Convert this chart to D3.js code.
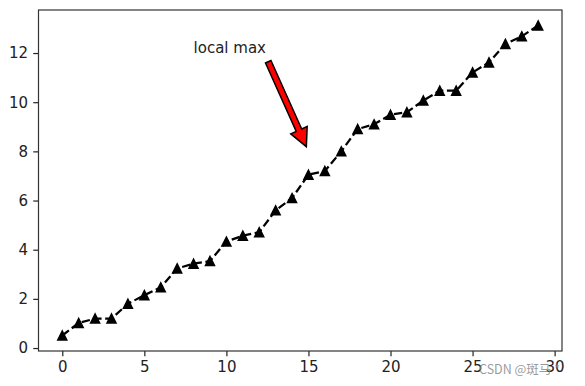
<!DOCTYPE html>
<html>
<head>
<meta charset="UTF-8">
<title>local max</title>
<style>
  body { margin: 0; background: #fff; }
  svg { display: block; }
  .tick text { font-family: "DejaVu Sans", sans-serif; font-size: 15px; fill: #222; }
  .tick line { stroke: #222; }
  .domain { display: none; }
</style>
</head>
<body>
<svg width="585" height="386"></svg>
<script src="https://cdnjs.cloudflare.com/ajax/libs/d3/7.8.5/d3.min.js"></script>
<script>
// data
const xs = d3.range(30);
const ys = [0.51, 1.02, 1.20, 1.20, 1.80, 2.15, 2.47, 3.24, 3.43, 3.54,
            4.33, 4.57, 4.71, 5.60, 6.10, 7.05, 7.20, 8.00, 8.91, 9.10,
            9.49, 9.59, 10.07, 10.47, 10.47, 11.21, 11.62, 12.37, 12.68, 13.12];
const xTicks = [0, 5, 10, 15, 20, 25, 30];
const yTicks = [0, 2, 4, 6, 8, 10, 12];
const noteText = "local max";
const noteXY = [15, 8];
const noteTextXY = [8, 12];

const pt = 1.5; // points -> px
const svg = d3.select("svg");
const L = 38.5, R = 562, T = 10, B = 351;

const xPad = 0.05 * (d3.max(xs) - d3.min(xs));
const yPad = 0.05 * (d3.max(ys) - d3.min(ys));
const x = d3.scaleLinear().domain([d3.min(xs) - xPad, d3.max(xs) + xPad]).range([L, R]);
const y = d3.scaleLinear().domain([d3.min(ys) - yPad, d3.max(ys) + yPad]).range([B, T]);

// axes
svg.append("g").attr("transform", `translate(0,${B})`)
  .call(d3.axisBottom(x).tickValues(xTicks).tickSize(3.5 * pt).tickPadding(3.5 * pt).tickFormat(d3.format("d")));
svg.append("g").attr("transform", `translate(${L},0)`)
  .call(d3.axisLeft(y).tickValues(yTicks).tickSize(3.5 * pt).tickPadding(3.5 * pt).tickFormat(d3.format("d")));
svg.selectAll(".tick line").attr("stroke-width", 0.8 * pt);

// frame
svg.append("rect").attr("x", L).attr("y", T).attr("width", R - L).attr("height", B - T)
  .attr("fill", "none").attr("stroke", "#333").attr("stroke-width", 0.8 * pt);

// dashed line
const line = d3.line().x((d, i) => x(xs[i])).y(d => y(d));
svg.append("path").datum(ys).attr("d", line)
  .attr("fill", "none").attr("stroke", "#000").attr("stroke-width", 1.5 * pt)
  .attr("stroke-dasharray", `${3.7 * 1.5 * pt},${1.6 * 1.5 * pt}`);

// triangle markers
const s = 3 * pt;
svg.append("g").selectAll("path").data(ys).join("path")
  .attr("transform", (d, i) => `translate(${x(xs[i])},${y(d)})`)
  .attr("d", `M0,${-s}L${s},${s}L${-s},${s}Z`)
  .attr("fill", "#000").attr("stroke", "#000").attr("stroke-width", pt);

// annotation
const note = svg.append("text")
  .attr("x", x(noteTextXY[0])).attr("y", y(noteTextXY[1]))
  .attr("font-family", "DejaVu Sans, sans-serif").attr("font-size", 15)
  .attr("fill", "#222").text(noteText);
const bb = note.node().getBBox();
const tx = x(noteXY[0]), ty = y(noteXY[1]);
const cx = [bb.x, bb.x + bb.width / 2, bb.x + bb.width];
const cy = [bb.y, bb.y + bb.height / 2, bb.y + bb.height];
const sx = cx.reduce((a, b) => Math.abs(b - tx) < Math.abs(a - tx) ? b : a);
const sy = cy.reduce((a, b) => Math.abs(b - ty) < Math.abs(a - ty) ? b : a);
const len = Math.hypot(tx - sx, ty - sy);
const shrink = 0.05 * len;
const ux = (tx - sx) / len, uy = (ty - sy) / len;
const ax = sx + ux * shrink, ay = sy + uy * shrink;
const alen = len - 2 * shrink;
const tw = 4 * pt / 2, hw = 12 * pt / 2, hl = 12 * pt;
const ang = Math.atan2(uy, ux) * 180 / Math.PI;
const arrowPts = [[0, -tw], [alen - hl, -tw], [alen - hl, -hw], [alen, 0],
                  [alen - hl, hw], [alen - hl, tw], [0, tw]];
svg.append("path")
  .attr("transform", `translate(${ax},${ay}) rotate(${ang})`)
  .attr("d", d3.line()(arrowPts) + "Z")
  .attr("fill", "#f00").attr("stroke", "#000").attr("stroke-width", pt)
  .attr("stroke-linejoin", "miter");

// watermark
svg.append("text").attr("x", 479).attr("y", 374)
  .attr("font-family", "Noto Sans CJK SC, sans-serif").attr("font-size", 12.5)
  .attr("fill", "#888").attr("fill-opacity", 0.85).text("CSDN @斑马 *");
</script>
</body>
</html>
